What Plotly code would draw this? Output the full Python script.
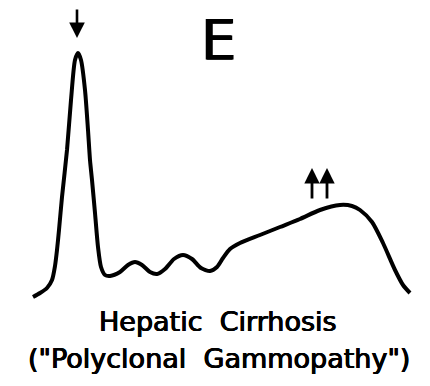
import plotly.graph_objects as go

# Densitometer trace of serum protein electrophoresis (hepatic cirrhosis).
# mobility: position along the strip; density: height of the trace above baseline
mobility = [33, 40, 47, 52, 55, 57, 59, 62, 67, 71, 75, 78, 81, 85, 88, 90, 92,
            95, 98, 101, 105, 110, 120, 128, 135, 142, 150, 157, 165, 174, 183,
            192, 201, 210, 217, 223, 230, 240, 260, 280, 300, 320, 340, 352,
            360, 372, 383, 395, 403, 410]
density = [3, 7, 12, 20, 34, 50, 70, 103, 150, 200, 240, 247, 240, 210, 170,
           140, 120, 87, 53, 33, 25, 24, 28, 35, 38, 35, 28, 26, 31, 41, 45,
           41, 32, 29, 33, 42, 51, 57, 65, 73, 81, 90, 95, 94,
           90, 78, 57, 30, 15, 7]

# Arrows: albumin decreased (down), gamma globulins markedly increased (up, up)
albumin_arrow_x = 77
gamma_arrow_x = [312, 327]

title_text = "E"
caption_lines = ["Hepatic  Cirrhosis", "(\"Polyclonal  Gammopathy\")"]

fig = go.Figure()
fig.add_trace(go.Scatter(
    x=mobility, y=density, mode="lines",
    line=dict(color="black", width=4, shape="spline", smoothing=0.7),
    hoverinfo="skip", showlegend=False,
))

font_family = "DejaVu Sans, Liberation Sans, sans-serif"
# slightly heavier strokes for the hand-lettered look
heavy = "0.5px 0 0 black, -0.5px 0 0 black, 0 0.4px 0 black"

annotations = [
    dict(x=albumin_arrow_x, y=262, ax=albumin_arrow_x, ay=292,
         xref="x", yref="y", axref="x", ayref="y", text="",
         showarrow=True, arrowhead=2, arrowsize=1.2, arrowwidth=2.6,
         arrowcolor="black"),
]
for gx in gamma_arrow_x:
    annotations.append(dict(
        x=gx, y=132, ax=gx, ay=100, xref="x", yref="y", axref="x", ayref="y",
        text="", showarrow=True, arrowhead=2, arrowsize=1.1, arrowwidth=2.8,
        arrowcolor="black"))

annotations.append(dict(
    x=218, y=261, xref="x", yref="y", text=title_text, showarrow=False,
    font=dict(family=font_family, size=56, color="black",
              shadow="0.8px 0 0 black, -0.8px 0 0 black"),
    xanchor="center", yanchor="middle"))
annotations.append(dict(
    x=218, y=-21, xref="x", yref="y", text=caption_lines[0], showarrow=False,
    font=dict(family=font_family, size=27, color="black", shadow=heavy),
    xanchor="center", yanchor="middle"))
annotations.append(dict(
    x=219, y=-58, xref="x", yref="y", text=caption_lines[1], showarrow=False,
    font=dict(family=font_family, size=27, color="black", shadow=heavy),
    xanchor="center", yanchor="middle"))

fig.update_layout(
    width=430, height=386,
    margin=dict(l=0, r=0, t=0, b=0),
    paper_bgcolor="white", plot_bgcolor="white",
    xaxis=dict(range=[0, 430], visible=False, fixedrange=True),
    yaxis=dict(range=[-86, 300], visible=False, fixedrange=True),
    annotations=annotations,
)

fig.write_html("out.html")
